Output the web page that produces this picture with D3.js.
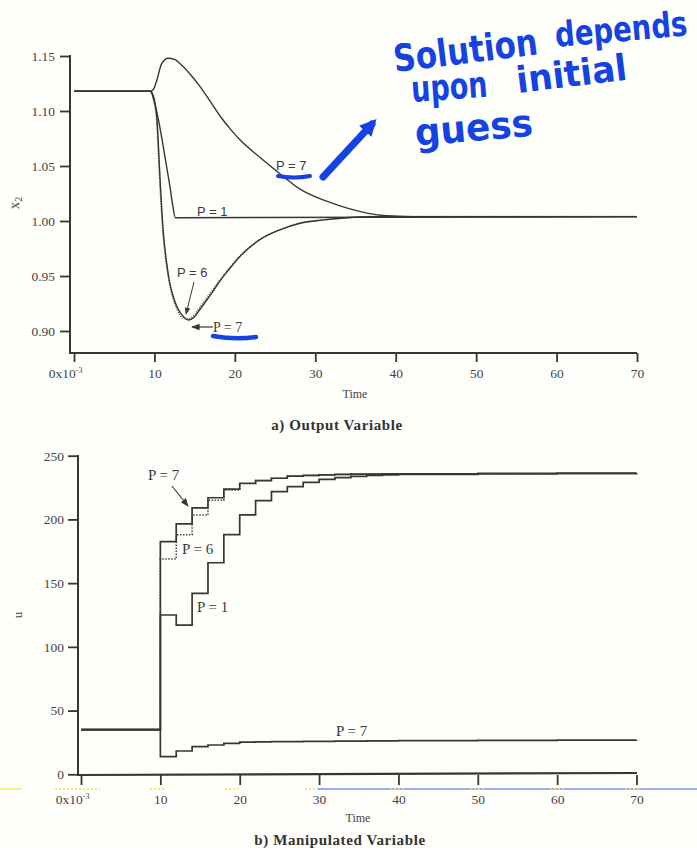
<!DOCTYPE html>
<html><head><meta charset="utf-8">
<script src="https://cdn.jsdelivr.net/npm/d3@7/dist/d3.min.js"></script>
<style>
html,body{margin:0;padding:0;background:#fefefb;}
svg{display:block;}
</style></head>
<body>
<svg id="chart" width="697" height="848"></svg>
<script>
// ---------- data ----------
const xTicks = [0, 10, 20, 30, 40, 50, 60, 70];
const x2Ticks = [0.90, 0.95, 1.00, 1.05, 1.10, 1.15];
const uTicks = [0, 50, 100, 150, 200, 250];

// a) Output variable x2
const tP1 = [0, 9.5, 10, 10.5, 11, 11.5, 12, 12.3, 12.6, 13, 70];
const x2P1 = [1.118, 1.118, 1.108, 1.092, 1.072, 1.050, 1.028, 1.013, 1.003, 1.003, 1.004];

const tP7lo = [0, 9.5, 9.8, 10.0, 10.3, 10.7, 11.1, 11.5, 11.9, 12.4, 12.8, 13.5, 14.2, 15, 15.7, 17, 18.2, 19.4, 20.6, 23.1, 25.6, 28.1, 31, 34, 37, 40, 70];
const x2P7lo = [1.118, 1.118, 1.115, 1.110, 1.094, 1.038, 0.990, 0.963, 0.944, 0.930, 0.922, 0.914, 0.910, 0.913, 0.920, 0.933, 0.946, 0.957, 0.9675, 0.983, 0.992, 0.998, 1.001, 1.003, 1.004, 1.004, 1.004];

const tP6 = [0, 9.5, 9.8, 10.0, 10.3, 10.6, 11.0, 11.4, 11.8, 12.3, 12.8, 13.5, 14.2, 15, 15.7, 17, 18.2, 19.4, 20.6, 23.1, 25.6, 28.1, 31, 34, 37, 40, 70];
const x2P6 = [1.118, 1.118, 1.114, 1.107, 1.090, 1.046, 0.995, 0.965, 0.946, 0.930, 0.920, 0.912, 0.911, 0.915, 0.922, 0.935, 0.947, 0.958, 0.968, 0.983, 0.992, 0.998, 1.001, 1.003, 1.004, 1.004, 1.004];

const tP7hi = [0, 9.5, 9.9, 10.3, 10.9, 11.7, 12.5, 13.2, 14.5, 15.7, 17, 18.2, 19.4, 20.6, 23.1, 25.6, 28.1, 31.4, 34.3, 38.4, 42, 70];
const x2P7hi = [1.118, 1.118, 1.120, 1.128, 1.143, 1.148, 1.147, 1.143, 1.133, 1.122, 1.108, 1.095, 1.084, 1.074, 1.058, 1.043, 1.029, 1.018, 1.011, 1.005, 1.004, 1.004];

// b) Manipulated variable u (piecewise constant, sample time 2)
const tU = [0, 10, 12, 14, 16, 18, 20, 22, 24, 26, 28, 30, 32, 34, 36, 38, 40, 50, 60, 70];
const uP7hi = [35, 182.5, 196.5, 209, 217, 223.7, 228.4, 230.5, 232.3, 233.9, 234.5, 235, 235.3, 235.5, 235.6, 235.7, 235.8, 236, 236.2, 236.3];
const uP6   = [35, 169, 188, 203.5, 215, 223, 228, 230.5, 232.3, 233.9, 234.5, 235, 235.3, 235.5, 235.6, 235.7, 235.8, 236, 236.2, 236.3];
const uP1   = [35, 125, 117, 142, 166, 188, 203.5, 214.8, 221.8, 225.8, 229, 231.5, 232.8, 233.8, 234.5, 235, 235.3, 236, 236.2, 236.3];
const uP7lo = [35, 13.8, 18.3, 21.7, 23, 24.3, 25.3, 25.5, 25.6, 25.7, 25.8, 25.9, 26, 26.1, 26.2, 26.3, 26.4, 26.6, 26.8, 27];

// ---------- drawing ----------
const svg = d3.select("#chart");
const ink = "#363636";
const serif = "'Liberation Serif','Times New Roman',serif";
const sans = "'Liberation Sans',Arial,sans-serif";

svg.append("rect").attr("width", 697).attr("height", 848).attr("fill", "#fefefb");

const defs = svg.append("defs");
defs.append("marker").attr("id", "ah").attr("viewBox", "0 0 10 10").attr("refX", 9).attr("refY", 5)
  .attr("markerWidth", 7).attr("markerHeight", 7).attr("orient", "auto-start-reverse")
  .append("path").attr("d", "M0,1 L10,5 L0,9 Z").attr("fill", ink);
defs.append("marker").attr("id", "bh").attr("viewBox", "0 0 10 10").attr("refX", 6).attr("refY", 5)
  .attr("markerWidth", 2.4).attr("markerHeight", 2.4).attr("orient", "auto")
  .append("path").attr("d", "M0,0 L10,5 L0,10 Z").attr("fill", "#1542e2");

function zeroLabel(sel) {
  sel.each(function(d) {
    if (d === 0) {
      const t = d3.select(this);
      t.text("0x10").attr("text-anchor", "end").attr("dx", "8");
      t.append("tspan").attr("dy", "-0.55em").attr("font-size", "8px").text("-3");
    }
  });
}

// ===== Top chart =====
const xT = d3.scaleLinear().domain([0, 70]).range([74, 637]);
const yT = d3.scaleLinear().domain([0.90, 1.15]).range([331, 56]);

const gTop = svg.append("g");
const xaT = gTop.append("g").attr("transform", "translate(0,353)")
  .call(d3.axisBottom(xT).tickValues(xTicks).tickSize(9).tickPadding(6).tickSizeOuter(0).tickFormat(d3.format("d")));
xaT.select(".domain").remove();
gTop.append("line").attr("x1", 70).attr("x2", 637).attr("y1", 353).attr("y2", 353).attr("stroke", ink).attr("stroke-width", 2);
const yaT = gTop.append("g").attr("transform", "translate(70,0)")
  .call(d3.axisLeft(yT).tickValues(x2Ticks).tickSize(10).tickPadding(5).tickSizeOuter(0).tickFormat(d3.format(".2f")));
yaT.select(".domain").remove();
gTop.append("line").attr("x1", 70).attr("x2", 70).attr("y1", 55).attr("y2", 354).attr("stroke", ink).attr("stroke-width", 2);
[xaT, yaT].forEach(a => {
  a.selectAll(".tick line").attr("stroke", ink).attr("stroke-width", 1.8);
  a.selectAll("text").attr("font-family", serif).attr("font-size", 13.5).attr("fill", "#444");
});
xaT.selectAll(".tick text").call(zeroLabel);

const lineT = d3.line().curve(d3.curveMonotoneX).x(d => xT(d[0])).y(d => yT(d[1]));
const zip = (a, b) => a.map((v, i) => [v, b[i]]);
gTop.append("path").attr("d", lineT(zip(tP6, x2P6))).attr("fill", "none").attr("stroke", "#666")
  .attr("stroke-width", 1.6).attr("stroke-dasharray", "1.2,1.2");
[[tP1, x2P1], [tP7lo, x2P7lo], [tP7hi, x2P7hi]].forEach(([t, v]) => {
  gTop.append("path").attr("d", lineT(zip(t, v))).attr("fill", "none").attr("stroke", ink).attr("stroke-width", 1.4);
});

const lbl = (g, x, y, txt, fam, size) => g.append("text").attr("x", x).attr("y", y).text(txt)
  .attr("font-family", fam).attr("font-size", size).attr("fill", "#3a3a3a");
lbl(gTop, 276, 170, "P = 7", sans, 13);
lbl(gTop, 197, 216, "P = 1", sans, 13);
lbl(gTop, 177, 277, "P = 6", sans, 13);
lbl(gTop, 213, 332, "P = 7", serif, 14);
gTop.append("line").attr("x1", 194).attr("y1", 282).attr("x2", 186).attr("y2", 314)
  .attr("stroke", ink).attr("stroke-width", 1).attr("marker-end", "url(#ah)");
gTop.append("line").attr("x1", 213).attr("y1", 327).attr("x2", 192).attr("y2", 327)
  .attr("stroke", ink).attr("stroke-width", 1.2).attr("marker-end", "url(#ah)");

gTop.append("text").attr("transform", "translate(19,203) rotate(-90)").attr("text-anchor", "middle")
  .attr("font-family", serif).attr("font-size", 15).attr("fill", "#444")
  .text("x").append("tspan").attr("font-size", 10).attr("dy", 3).text("2");
gTop.append("text").attr("x", 355).attr("y", 398).attr("text-anchor", "middle")
  .attr("font-family", serif).attr("font-size", 12).attr("fill", "#444").text("Time");
gTop.append("text").attr("x", 337).attr("y", 430).attr("text-anchor", "middle")
  .attr("font-family", serif).attr("font-size", 15).attr("font-weight", "bold").attr("letter-spacing", 0.6)
  .attr("fill", "#333").text("a) Output Variable");

// ===== Bottom chart =====
const xB = d3.scaleLinear().domain([0, 70]).range([81, 636.5]);
const yB = d3.scaleLinear().domain([0, 250]).range([774.3, 455.7]);
const gBot = svg.append("g");
const xaB = gBot.append("g").attr("transform", "translate(0,775)")
  .call(d3.axisBottom(xB).tickValues(xTicks).tickSize(10).tickPadding(9).tickSizeOuter(0).tickFormat(d3.format("d")));
xaB.select(".domain").remove();
gBot.append("line").attr("x1", 77).attr("x2", 637).attr("y1", 775).attr("y2", 773).attr("stroke", ink).attr("stroke-width", 2.2);
const yaB = gBot.append("g").attr("transform", "translate(78,0)")
  .call(d3.axisLeft(yB).tickValues(uTicks).tickSize(10).tickPadding(4).tickSizeOuter(0).tickFormat(d3.format("d")));
yaB.select(".domain").remove();
gBot.append("line").attr("x1", 78).attr("x2", 78).attr("y1", 455).attr("y2", 776).attr("stroke", ink).attr("stroke-width", 2);
[xaB, yaB].forEach(a => {
  a.selectAll(".tick line").attr("stroke", ink).attr("stroke-width", 1.8);
  a.selectAll("text").attr("font-family", serif).attr("font-size", 13.5).attr("fill", "#444");
});
xaB.selectAll(".tick text").call(zeroLabel);

const lineB = d3.line().curve(d3.curveStepAfter).x(d => xB(d[0])).y(d => yB(d[1]));
gBot.append("path").attr("d", lineB(zip(tU, uP6))).attr("fill", "none").attr("stroke", "#444")
  .attr("stroke-width", 1.5).attr("stroke-dasharray", "1.5,1.5");
[uP1, uP7lo, uP7hi].forEach(v => {
  gBot.append("path").attr("d", lineB(zip(tU, v))).attr("fill", "none").attr("stroke", ink).attr("stroke-width", 1.7);
});

lbl(gBot, 148, 480, "P = 7", serif, 15);
lbl(gBot, 182, 554, "P = 6", serif, 15);
lbl(gBot, 197, 612, "P = 1", serif, 15);
lbl(gBot, 336, 736, "P = 7", serif, 15);
gBot.append("line").attr("x1", 172).attr("y1", 486).attr("x2", 188).attr("y2", 506)
  .attr("stroke", ink).attr("stroke-width", 1.2).attr("marker-end", "url(#ah)");

gBot.append("text").attr("transform", "translate(22,615) rotate(-90)").attr("text-anchor", "middle")
  .attr("font-family", serif).attr("font-size", 13).attr("fill", "#444").text("u");
gBot.append("text").attr("x", 358).attr("y", 822).attr("text-anchor", "middle")
  .attr("font-family", serif).attr("font-size", 12).attr("fill", "#444").text("Time");
gBot.append("text").attr("x", 340).attr("y", 845).attr("text-anchor", "middle")
  .attr("font-family", serif).attr("font-size", 15).attr("font-weight", "bold").attr("letter-spacing", 0.6)
  .attr("fill", "#333").text("b) Manipulated Variable");

// scan artifacts
svg.append("line").attr("x1", 318).attr("x2", 697).attr("y1", 789).attr("y2", 789).attr("stroke", "#3d5cf0").attr("stroke-width", 1.2);
[[0, 22], [55, 100], [150, 165], [225, 240], [305, 318], [390, 405], [470, 485], [550, 565], [625, 640]].forEach(([a, b]) => {
  svg.append("line").attr("x1", a).attr("x2", b).attr("y1", 789).attr("y2", 789)
    .attr("stroke", "#f2e640").attr("stroke-width", 1.3).attr("stroke-dasharray", a === 0 ? null : "2,2");
});

// ===== blue handwritten annotation =====
const blue = "#1542e2";
const hw = svg.append("g").attr("fill", blue).attr("font-family", "'DejaVu Sans',sans-serif").attr("font-weight", "bold");
function word(txt, x, y, ang, size, sx, sy) {
  hw.append("text").attr("transform", `translate(${x},${y}) rotate(${ang}) scale(${sx},${sy})`)
    .attr("font-size", size).text(txt);
}
word("Solution", 395, 72, -7, 25, 1.24, 1.5);
word("depends", 556, 47, -5, 24, 1.15, 1.45);
word("upon", 412, 102, -4, 27, 1.0, 1.35);
word("initial", 518, 93, -7, 27, 1.27, 1.35);
word("guess", 416, 146, -5, 28, 1.28, 1.35);

const bl = svg.append("g").attr("stroke", blue).attr("stroke-linecap", "round").attr("fill", "none");
bl.append("path").attr("d", "M278,176 Q294,179 310,176").attr("stroke-width", 4);
bl.append("path").attr("d", "M213,336 Q235,340 256,337").attr("stroke-width", 4.5);
bl.append("line").attr("x1", 323).attr("y1", 177).attr("x2", 372).attr("y2", 124)
  .attr("stroke-width", 7).attr("marker-end", "url(#bh)");
</script>
</body></html>
